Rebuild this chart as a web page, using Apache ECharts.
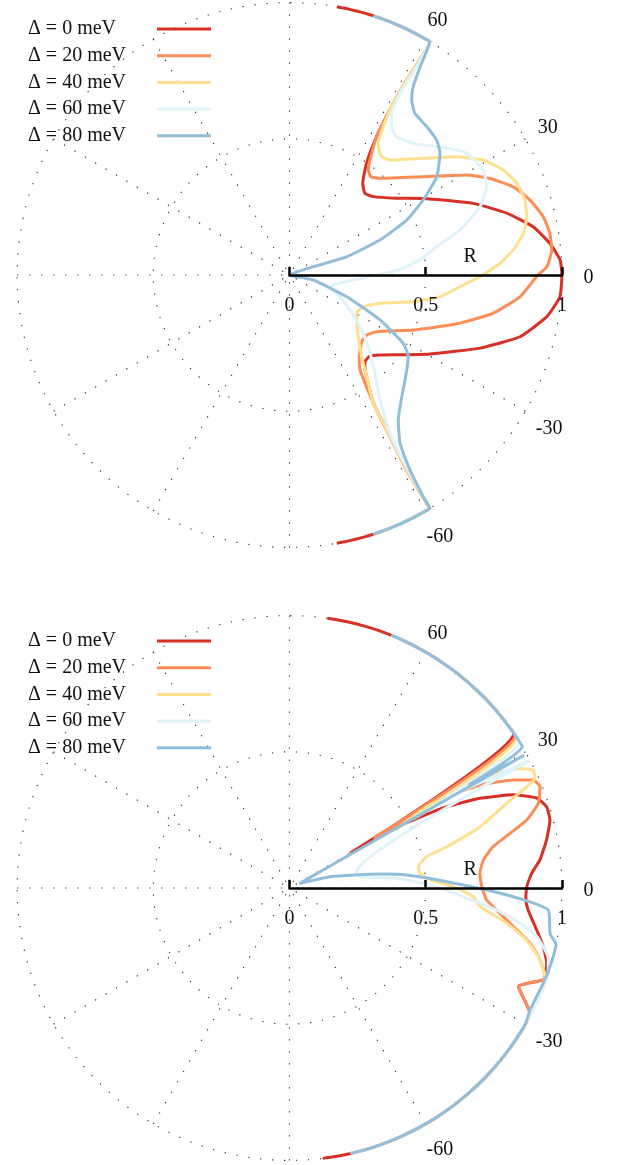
<!DOCTYPE html>
<html><head><meta charset="utf-8">
<script src="https://cdn.jsdelivr.net/npm/echarts@6/dist/echarts.min.js"></script>
<style>html,body{margin:0;padding:0;background:#fff}#c{width:625px;height:1165px}</style>
</head><body><div id="c"></div>
<script>
// series names and colours
const names = ['Δ = 0 meV', 'Δ = 20 meV', 'Δ = 40 meV', 'Δ = 60 meV', 'Δ = 80 meV'];
const colors = ['#d73027', '#fc8d59', '#fee090', '#e0f3f8', '#91bfdb'];
const angleTickLabels = {0: '0', 30: '30', 60: '60', 330: '-30', 300: '-60'};
const radiusTickLabels = {0: '0', 0.5: '0.5', 1: '1'};

// ---- upper panel: [angle (deg), R] in drawing order ----
const topD0 = [[80,1],[78,1],[76,1],[74,1],[72,1],[70,1],[68,1],[66,1],[64,1],[62,1],[60,1],[59,1],
 [59,0.835],[58.7,0.709],[57.8,0.600],[55.4,0.498],[51.4,0.431],[47.3,0.408],[43.1,0.421],[36,0.48],[29.8,0.566],
 [21.3,0.724],[15.9,0.829],[11.2,0.912],[6.9,0.963],[3.2,0.995],[0,1],
 [-4.6,0.996],[-9.2,0.957],[-15,0.876],[-21,0.749],[-29.3,0.592],[-35,0.51],[-41.5,0.443],[-45.2,0.419],[-49,0.422],
 [-51.5,0.446],[-56.8,0.563],[-58.1,0.699],[-59,0.835],[-59,0.978],[-59,1],
 [-60,1],[-62,1],[-64,1],[-66,1],[-68,1],[-70,1],[-72,1],[-74,1],[-76,1],[-78,1],[-80,1]];
const topD20 = [[72,1],[70,1],[68,1],[66,1],[64,1],[62,1],[60,1],[59,1],
 [59,0.835],[58.7,0.709],[57.8,0.600],[54.5,0.504],[53.1,0.482],[50.4,0.468],[46.9,0.486],[36.3,0.609],[29.4,0.747],
 [25.7,0.817],[21.5,0.883],[17.3,0.925],[12.9,0.956],[9.1,0.968],[5.4,0.967],[1.8,0.945],[0,0.912],
 [-5.4,0.85],[-10.6,0.761],[-15.8,0.65],[-24,0.497],[-33,0.382],[-37.9,0.359],[-42.7,0.361],[-49.5,0.394],[-53.4,0.434],
 [-56.8,0.563],[-58.1,0.699],[-59,0.835],[-59,0.978],[-59,1],
 [-60,1],[-62,1],[-64,1],[-66,1],[-68,1],[-70,1],[-72,1]];
const topD40 = [[72,1],[70,1],[68,1],[66,1],[64,1],[62,1],[60,1],[59,1],
 [59,0.835],[58.7,0.709],[56,0.583],[53.9,0.560],[52.1,0.551],[48.8,0.561],[41.1,0.652],[35.3,0.752],[30.7,0.827],
 [26.2,0.874],[22,0.900],[17.7,0.907],[13.8,0.897],[10.1,0.872],[6.4,0.827],[3.2,0.774],[-0.5,0.699],
 [-2.7,0.651],[-8.2,0.558],[-12.2,0.465],[-17.4,0.348],[-23.2,0.295],[-28.4,0.283],[-33.8,0.297],[-41.9,0.339],
 [-48.5,0.400],[-51.5,0.446],[-56.8,0.563],[-58.1,0.699],[-59,0.835],[-59,0.978],[-59,1],
 [-60,1],[-62,1],[-64,1],[-66,1],[-68,1],[-70,1],[-72,1]];
const topD60 = [[72,1],[70,1],[68,1],[66,1],[64,1],[62,1],[60,1],[59,1],
 [58.6,0.896],[58.7,0.781],[57.7,0.702],[55.4,0.661],[52.2,0.642],[46.8,0.663],[40.4,0.726],[34.5,0.789],[28.4,0.809],
 [24.1,0.793],[19.7,0.743],[14.8,0.647],[10.9,0.550],[6.6,0.482],[2.6,0.399],[-2.3,0.272],[-12.9,0.164],[-17.5,0.162],
 [-23.3,0.202],[-30,0.257],[-36.3,0.321],[-42.3,0.391],[-49,0.478],[-54.1,0.566],[-57.6,0.688],[-58.6,0.825],[-58.9,0.952],[-59,1],
 [-60,1],[-62,1],[-64,1],[-66,1],[-68,1],[-70,1],[-72,1]];
const topD80 = [[72,1],[70,1],[68,1],[66,1],[64,1],[62,1],[60,1],[59,1],
 [57.9,0.903],[56.7,0.827],[55.1,0.784],[52.2,0.751],[47.2,0.742],[42.5,0.733],[39,0.711],[33.7,0.650],[29.3,0.563],
 [25.1,0.475],[21.1,0.356],[17.7,0.220],[19.2,0.093],[5,0],[-11.9,0.089],[-20.8,0.225],[-26.4,0.371],[-31,0.487],
 [-34.5,0.529],[-39,0.554],[-47.3,0.608],[-53.1,0.665],[-56.7,0.739],[-58.3,0.842],[-58.9,0.951],[-59,1],
 [-60,1],[-62,1],[-64,1],[-66,1],[-68,1],[-70,1],[-72,1]];

// ---- lower panel ----
const botD0 = [[82,1],[80,1],[77,1],[74,1],[71,1],[68,1],[65,1],[62,1],[59,1],[56,1],[53,1],[50,1],[47,1],[44,1],[41,1],[38,1],[34.6,1],
 [29.8,0.256],[30.4,0.385],[28.8,0.519],[27.3,0.650],[25.2,0.773],[22.6,0.890],[20,0.966],[17.5,0.990],[14.6,0.988],
 [10.6,0.960],[6.4,0.925],[3.5,0.891],[0.3,0.871],[-2.9,0.869],[-5.3,0.880],[-9.6,0.920],[-13,0.956],[-16.3,0.984],
 [-19.1,0.993],[-19.9,0.991],[-23.3,0.915],[-27.5,0.995],
 [-30,1],[-33,1],[-36,1],[-39,1],[-42,1],[-45,1],[-48,1],[-51,1],[-54,1],[-57,1],[-60,1],[-63,1],[-66,1],[-69,1],[-72,1],[-75,1],[-78,1],[-81,1],[-83,1]];
const botD20 = [[68,1],[65,1],[62,1],[59,1],[56,1],[53,1],[50,1],[47,1],[44,1],[41,1],[38,1],[34,1],
 [30.7,0.358],[29.8,0.453],[30.1,0.667],[28.4,0.795],[25.8,0.912],[23.9,0.979],[22,0.992],[18.8,0.965],[16,0.906],
 [13.9,0.834],[11.5,0.763],[8.2,0.719],[4.4,0.701],[0.4,0.706],[-3.5,0.725],[-6.1,0.765],[-9.8,0.834],[-12.9,0.906],
 [-16,0.957],[-19.1,0.993],[-19.9,0.991],[-23.3,0.915],[-27.5,0.995],
 [-30,1],[-33,1],[-36,1],[-39,1],[-42,1],[-45,1],[-48,1],[-51,1],[-54,1],[-57,1],[-60,1],[-63,1],[-66,1],[-69,1],[-72,1],[-75,1],[-77,1]];
const botD40 = [[68,1],[65,1],[62,1],[59,1],[56,1],[53,1],[50,1],[47,1],[44,1],[41,1],[38,1],[33.5,1],
 [28.8,0.442],[30.6,0.586],[30.2,0.739],[29,0.870],[27.4,0.954],[25.8,0.994],[24.1,0.987],[23.1,0.947],[21.3,0.856],
 [17.8,0.735],[14.7,0.597],[12.9,0.517],[9.4,0.479],[6.4,0.482],[3.3,0.517],[0.5,0.601],[-2.7,0.676],[-5.6,0.703],
 [-9.2,0.808],[-12.4,0.891],[-16,0.957],[-19.1,0.993],
 [-21,1],[-24,1],[-27,1],[-30,1],[-33,1],[-36,1],[-39,1],[-42,1],[-45,1],[-48,1],[-51,1],[-54,1],[-57,1],[-60,1],[-63,1],[-66,1],[-69,1],[-72,1],[-75,1],[-77,1]];
const botD60 = [[68,1],[65,1],[62,1],[59,1],[56,1],[53,1],[50,1],[47,1],[44,1],[41,1],[38,1],[35,1],[32.5,1],
 [29.2,0.52],[29.5,0.70],[28.6,0.86],[28,1],[13.6,0.254],[9.1,0.262],[5.2,0.395],[1.2,0.516],[-2.9,0.639],[-6.1,0.765],
 [-8.7,0.856],[-11.1,0.925],[-14.2,0.974],[-15.5,0.986],[-18.5,1],
 [-21,1],[-24,1],[-27,1],[-30,1],[-33,1],[-36,1],[-39,1],[-42,1],[-45,1],[-48,1],[-51,1],[-54,1],[-57,1],[-60,1],[-63,1],[-66,1],[-69,1],[-72,1],[-75,1],[-77,1]];
const botD80 = [[68,1],[65,1],[62,1],[59,1],[56,1],[53,1],[50,1],[47,1],[44,1],[41,1],[38,1],[35,1],[31.3,1],
 [29.9,0.758],[29.5,0.99],[24,0.04],[15.6,0.154],[8.8,0.336],[6.3,0.433],[2.3,0.578],[-1,0.748],[-3.3,0.884],
 [-4.9,0.954],[-9.9,0.971],[-12,1],[-16.8,0.999],[-20.6,0.995],[-26.9,0.99],
 [-30,1],[-33,1],[-36,1],[-39,1],[-42,1],[-45,1],[-48,1],[-51,1],[-54,1],[-57,1],[-60,1],[-63,1],[-66,1],[-69,1],[-72,1],[-75,1],[-77,1]];

const topSets = [topD0, topD20, topD40, topD60, topD80];
const botSets = [botD0, botD20, botD40, botD60, botD80];

const FONT = 'Liberation Serif';
const FS = 20;
const CX = 289.5, RAD = 272.4;
const DATA_MAX = 1.03;            // data polar reaches a bit past R = 1 so lines on the rim are not clipped
const centers = [[CX, 275], [CX, 888]];
const dots = {color: '#222', width: 1.1, type: [1.2, 10.8]};

function toPolar(arr) { return arr.map(p => [p[1], ((p[0] % 360) + 360) % 360]); }

const lbl = pad => ({fontFamily: FONT, fontSize: FS, lineHeight: FS, color: '#111', padding: pad});
const angleRich = {
  a0: lbl([6, 0, 0, 20]), a30: lbl([0, 0, 0, 11]), a60: lbl([0, 0, 14, 1]),
  a330: lbl([13, 0, 0, 9]), a300: lbl([28, 0, 0, 0])
};

const polar = [], angleAxis = [], radiusAxis = [];
const dataPolar = [];
const tickStyle = {color: '#000', width: 2.5};
const hiddenAngle = idx => ({polarIndex: idx, type: 'value', min: 0, max: 360, startAngle: 0, clockwise: false, show: false});
centers.forEach((c, k) => {
  // grid polar: dotted spokes, dotted circles, angle labels
  polar.push({center: c, radius: RAD});
  angleAxis.push({polarIndex: polar.length - 1, type: 'value', min: 0, max: 360, interval: 30, startAngle: 0, clockwise: false,
    z: 0, axisLine: {show: false}, axisTick: {show: false},
    splitLine: {show: true, lineStyle: dots},
    axisLabel: {margin: 1.6, fontFamily: FONT, fontSize: FS, color: '#111',
      formatter: v => angleTickLabels[v] !== undefined ? '{a' + v + '|' + angleTickLabels[v] + '}' : '',
      rich: angleRich}});
  radiusAxis.push({polarIndex: polar.length - 1, type: 'value', min: 0, max: 1, interval: 0.5, z: 0,
    axisLine: {show: false}, axisTick: {show: false}, axisLabel: {show: false},
    splitLine: {show: true, lineStyle: dots}});
  // data polar: same scale (R = 1 at RAD px), slightly larger extent
  polar.push({center: c, radius: RAD * DATA_MAX});
  dataPolar.push(polar.length - 1);
  angleAxis.push(hiddenAngle(polar.length - 1));
  radiusAxis.push({polarIndex: polar.length - 1, type: 'value', min: 0, max: DATA_MAX, show: false});
  // R axis in front of the curves: line, outward ticks, labels, name
  polar.push({center: c, radius: RAD});
  angleAxis.push(hiddenAngle(polar.length - 1));
  radiusAxis.push({polarIndex: polar.length - 1, type: 'value', min: 0, max: 1, interval: 0.5, z: 10,
    name: 'R', nameLocation: 'middle', nameGap: 0, nameMoveOverlap: false,
    nameTextStyle: {fontFamily: FONT, fontSize: FS, lineHeight: FS, color: '#111', verticalAlign: 'bottom', padding: [0, 0, 8, 89]},
    axisLine: {show: true, lineStyle: {color: '#000', width: 2.5}},
    axisTick: {show: true, length: 8, lineStyle: tickStyle},
    axisLabel: {show: true, margin: -21, verticalAlign: 'top', fontFamily: FONT, fontSize: FS, color: '#111', formatter: v => radiusTickLabels[v] ?? ''},
    splitLine: {show: false}});
  // other half of the ticks
  polar.push({center: c, radius: RAD});
  angleAxis.push(hiddenAngle(polar.length - 1));
  radiusAxis.push({polarIndex: polar.length - 1, type: 'value', min: 0, max: 1, interval: 0.5, z: 10,
    axisLine: {show: false}, axisLabel: {show: false}, splitLine: {show: false},
    axisTick: {show: true, inside: true, length: 8, lineStyle: tickStyle}});
});

const series = [];
[topSets, botSets].forEach((sets, k) => {
  sets.forEach((d, i) => {
    series.push({type: 'line', name: names[i], coordinateSystem: 'polar', polarIndex: dataPolar[k],
      data: toPolar(d), showSymbol: false, symbol: 'none', clip: false, smooth: 0.15, z: 3 + i,
      color: colors[i], lineStyle: {color: colors[i], width: 3}});
  });
});

const legendBase = {orient: 'vertical', left: 23, align: 'right', itemWidth: 54, itemHeight: 3, itemGap: 6.7,
  icon: 'rect', selectedMode: false, data: names,
  formatter: n => '{a|' + n + '}',
  textStyle: {fontFamily: FONT, fontSize: FS, color: '#111', lineHeight: 20,
    rich: {a: {fontFamily: FONT, fontSize: FS, color: '#111', lineHeight: 20, width: 124, align: 'left'}}}};

const chart = echarts.init(document.getElementById('c'), null, {renderer: 'canvas'});
chart.setOption({
  animation: false,
  backgroundColor: '#fff',
  legend: [Object.assign({top: 14}, legendBase), Object.assign({top: 626}, legendBase)],
  polar, angleAxis, radiusAxis, series
});
</script></body></html>
